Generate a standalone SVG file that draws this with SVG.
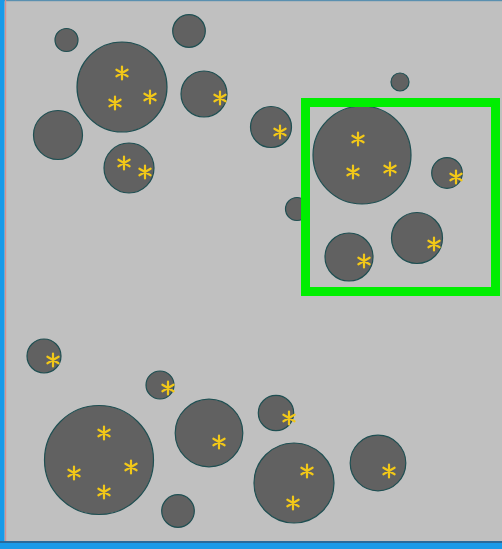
<svg xmlns="http://www.w3.org/2000/svg" xmlns:xlink="http://www.w3.org/1999/xlink" width="502" height="549" viewBox="0 0 502 549">
<style>
.c{fill:#616161;stroke:#1f4f52;stroke-width:1.2}
.s{fill:none;stroke:#f2c818;stroke-width:2.2;stroke-linecap:round}
</style>
<defs>
<path id="st" class="s" d="M0,-6.5V6.5M-5.6,-3.25L5.6,3.25M-5.6,3.25L5.6,-3.25"/>
</defs>
<rect width="502" height="549" fill="#c0c0c0"/>
<g id="circles">
<circle class="c" cx="66.5" cy="40" r="11.5"/>
<circle class="c" cx="122" cy="87" r="45"/>
<circle class="c" cx="189" cy="31" r="16.3"/>
<circle class="c" cx="204" cy="94" r="23"/>
<circle class="c" cx="58" cy="135" r="24.5"/>
<circle class="c" cx="129" cy="168" r="25"/>
<circle class="c" cx="400" cy="82" r="9"/>
<circle class="c" cx="271" cy="127" r="20.5"/>
<circle class="c" cx="297" cy="209" r="11.5"/>
<circle class="c" cx="362" cy="155" r="49"/>
<circle class="c" cx="447" cy="173" r="15.3"/>
<circle class="c" cx="417" cy="238" r="25.5"/>
<circle class="c" cx="349" cy="257" r="24"/>
<circle class="c" cx="44" cy="356" r="17"/>
<circle class="c" cx="160" cy="385" r="14"/>
<circle class="c" cx="99" cy="460" r="54.5"/>
<circle class="c" cx="209" cy="433" r="33.8"/>
<circle class="c" cx="178" cy="511" r="16.3"/>
<circle class="c" cx="276" cy="413" r="17.7"/>
<circle class="c" cx="294" cy="483" r="40"/>
<circle class="c" cx="378" cy="463" r="27.8"/>
</g>
<g id="markers">
<use href="#st" x="122" y="73"/>
<use href="#st" x="115" y="103"/>
<use href="#st" x="150" y="97"/>
<use href="#st" x="124" y="163"/>
<use href="#st" x="145" y="172"/>
<use href="#st" x="220" y="98"/>
<use href="#st" x="280" y="132"/>
<use href="#st" x="358" y="139"/>
<use href="#st" x="353" y="172"/>
<use href="#st" x="390" y="169"/>
<use href="#st" x="456" y="177"/>
<use href="#st" x="434" y="244"/>
<use href="#st" x="364" y="261"/>
<use href="#st" x="53" y="360"/>
<use href="#st" x="168" y="388"/>
<use href="#st" x="104" y="433"/>
<use href="#st" x="74" y="473"/>
<use href="#st" x="131" y="467"/>
<use href="#st" x="104" y="492"/>
<use href="#st" x="219" y="442"/>
<use href="#st" x="289" y="418"/>
<use href="#st" x="307" y="471"/>
<use href="#st" x="293" y="503"/>
<use href="#st" x="389" y="471"/>
</g>
<rect id="selection" x="305.5" y="102.5" width="190" height="189" fill="none" stroke="#00ee00" stroke-width="9"/>
<g id="frame">
<rect x="0" y="0" width="502" height="1.2" fill="#5a90b0"/>
<rect x="5" y="0" width="1.2" height="542" fill="#d89090"/>
<rect x="0" y="0" width="4.5" height="549" fill="#1a9ae8"/>
<rect x="0" y="541" width="502" height="2" fill="#2a6a9a"/>
<rect x="0" y="543" width="502" height="6" fill="#1a9ae8"/>
</g>
</svg>
